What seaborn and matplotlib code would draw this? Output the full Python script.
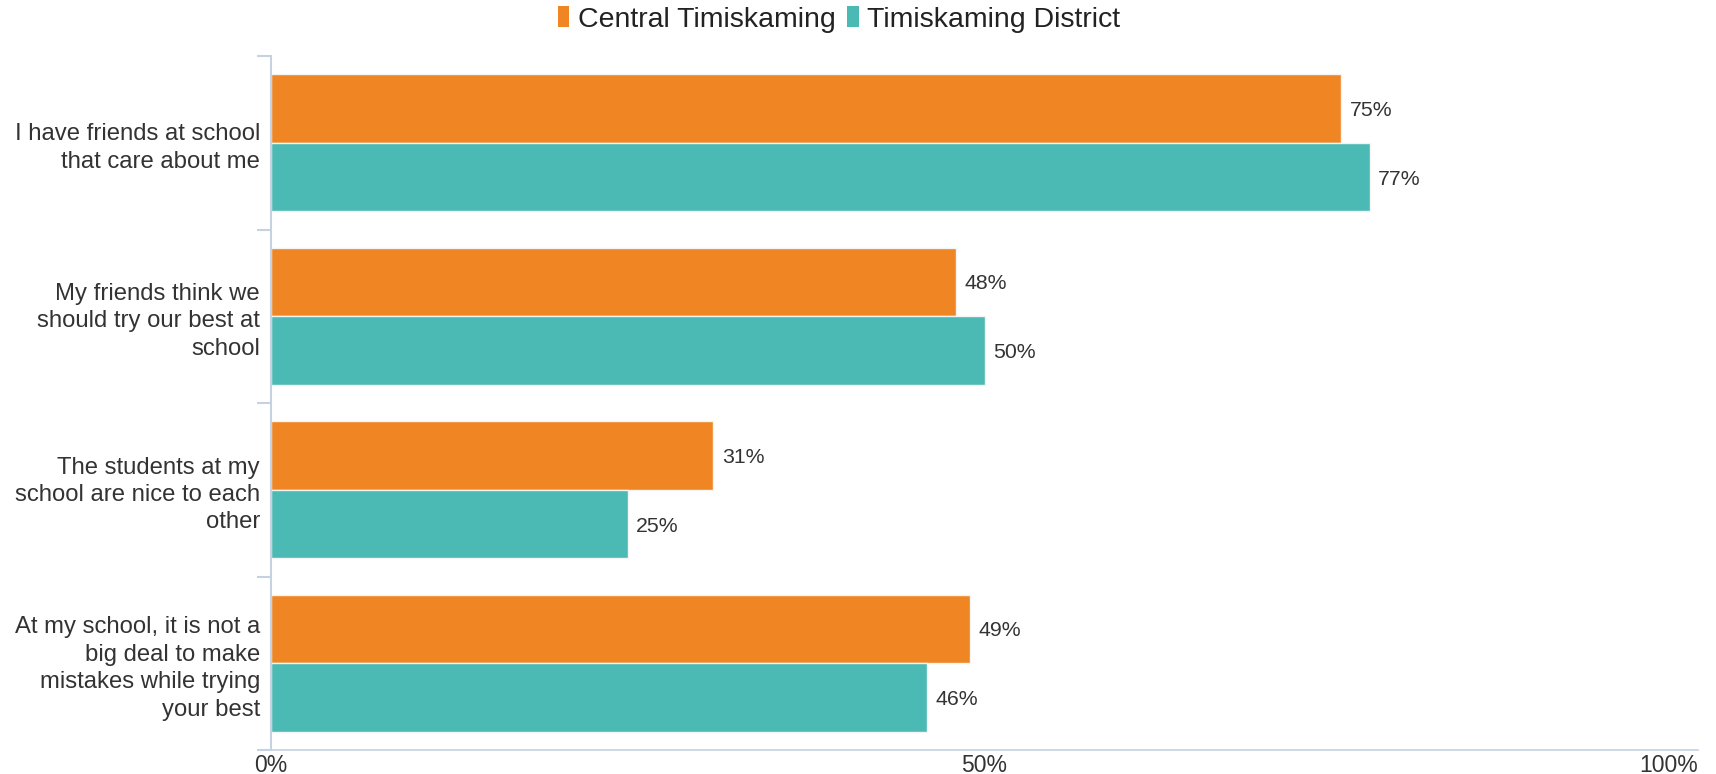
import matplotlib
matplotlib.use("Agg")
import matplotlib.pyplot as plt
import seaborn as sns
import pandas as pd
import numpy as np

categories = [
    "I have friends at school\nthat care about me",
    "My friends think we\nshould try our best at\nschool",
    "The students at my\nschool are nice to each\nother",
    "At my school, it is not a\nbig deal to make\nmistakes while trying\nyour best",
]
series_names = ["Central Timiskaming", "Timiskaming District"]
central = [75, 48, 31, 49]
district = [77, 50, 25, 46]
x_ticks = [0, 50, 100]
x_tick_labels = ["0%", "50%", "100%"]

colors = ["#F08623", "#4BBAB4"]
axis_color = "#C6D2E2"
text_color = "#333333"

sns.set_theme(style="white")
plt.rcParams["font.family"] = ["Liberation Sans", "DejaVu Sans"]

df = pd.DataFrame({
    "category": categories * 2,
    "series": [series_names[0]] * len(categories) + [series_names[1]] * len(categories),
    "value": central + district,
})

fig = plt.figure(figsize=(17.16, 7.74), dpi=100)
ax = fig.add_axes([271 / 1716, 1 - 750 / 774, (1698 - 271) / 1716, (750 - 56) / 774])

sns.barplot(data=df, y="category", x="value", hue="series", orient="h",
            palette=colors, saturation=1, width=0.79, edgecolor="#F4F4F4", linewidth=1,
            errorbar=None, ax=ax, legend=False)

for cont in ax.containers:
    labels = ax.bar_label(cont, fmt="%.0f%%", padding=6, fontsize=15.3, color=text_color)
    for t in labels:
        t.set_verticalalignment("center_baseline")

ax.set_xlim(0, 100)
ax.set_ylim(3.5, -0.5)
ax.set_xlabel("")
ax.set_ylabel("")
ax.set_xticks(x_ticks)
ax.set_xticklabels(x_tick_labels, fontsize=16.5, color=text_color)
ax.tick_params(axis="x", length=0, pad=3)
xl = ax.get_xticklabels()
xl[-1].set_horizontalalignment("right")

ax.set_yticks(range(len(categories)))
ax.set_yticklabels(categories, fontsize=17.2, color=text_color)
for t in ax.get_yticklabels():
    t.set_linespacing(1.32)
ax.tick_params(axis="y", which="major", length=0, pad=8)
ax.set_yticks(np.arange(-0.5, len(categories), 1.0), minor=True)
ax.tick_params(axis="y", which="minor", length=10, width=1.5, color=axis_color, left=True)

for s in ["top", "right"]:
    ax.spines[s].set_visible(False)
ax.spines["left"].set_color(axis_color)
ax.spines["left"].set_linewidth(1.5)
ax.spines["bottom"].set_color(axis_color)
ax.spines["bottom"].set_linewidth(1.2)
ax.grid(False)

from matplotlib.patches import Patch
handles = [Patch(facecolor=c, edgecolor="none") for c in colors]
fig.legend(handles, series_names, loc="upper center", bbox_to_anchor=(0.489, 1.025),
           ncol=2, frameon=False, fontsize=20.5, handlelength=0.4, handleheight=0.75,
           handletextpad=0.3, columnspacing=0.4, labelcolor="#222222")

fig.savefig("out.png", dpi=100)
